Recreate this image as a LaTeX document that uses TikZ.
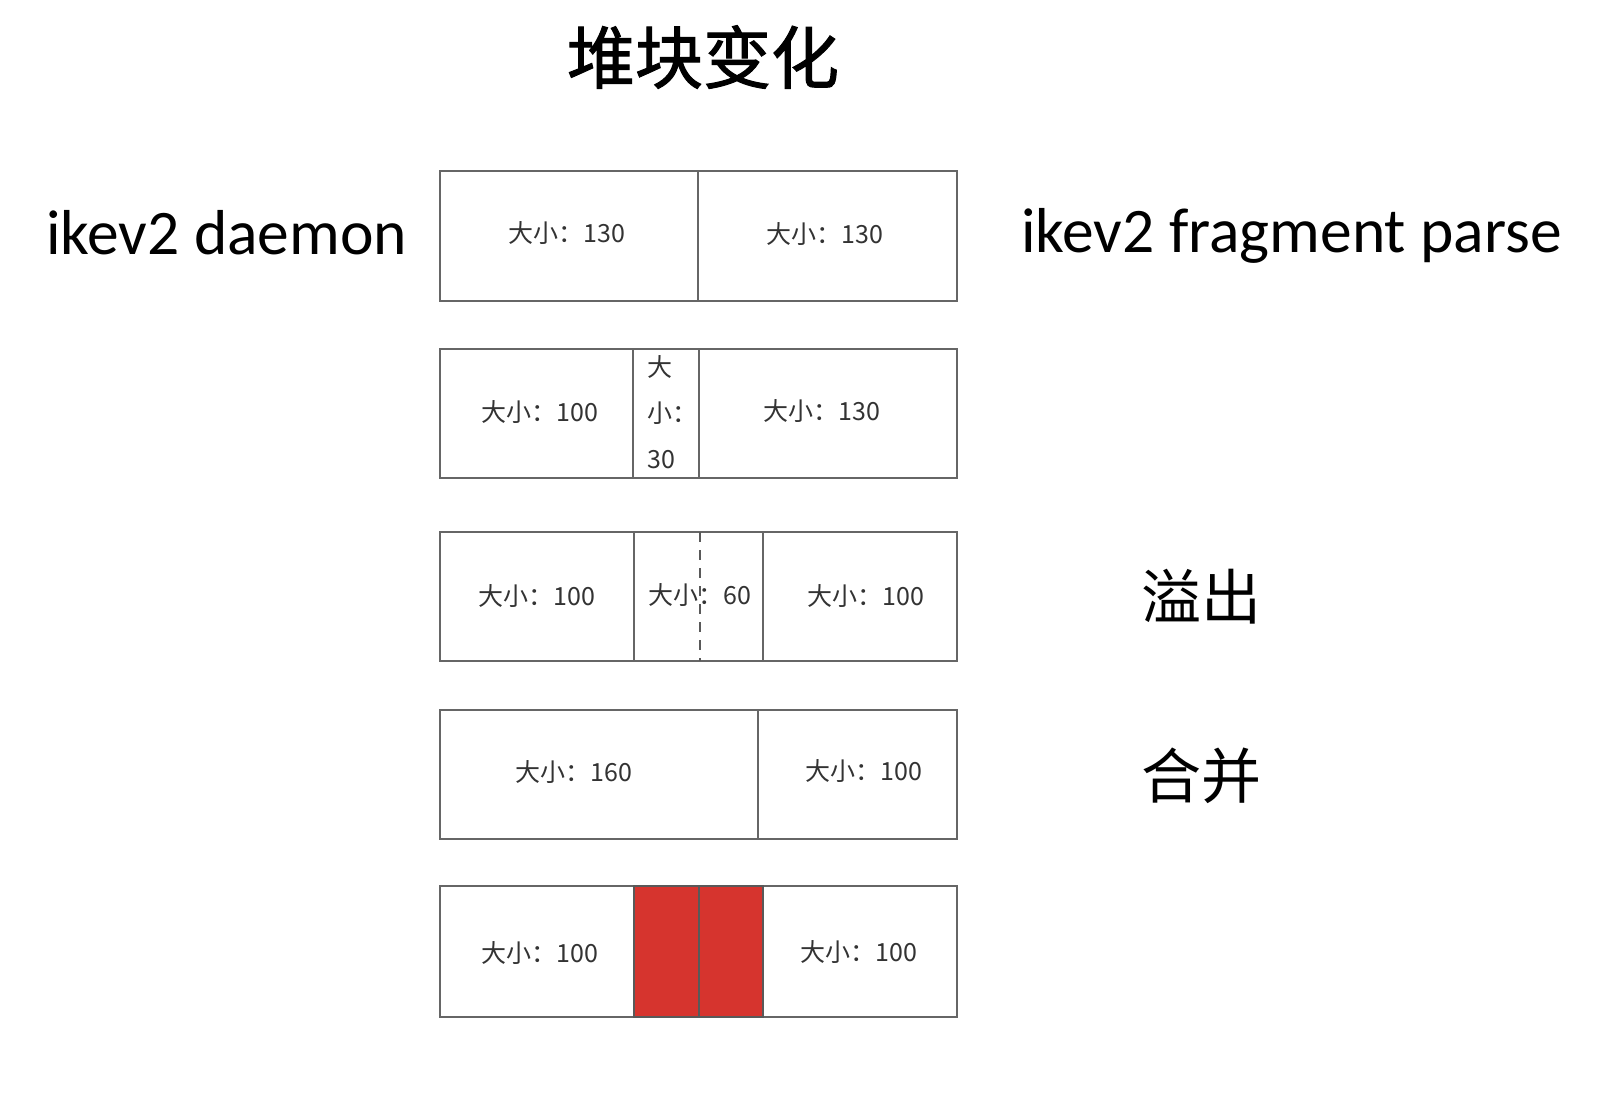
\documentclass[tikz,border=0pt]{standalone}
\usepackage{fontspec}
\setmainfont{Carlito}
\newfontfamily\cjk{Noto Sans CJK SC}
\newfontfamily\cjkmid[FakeBold=1.5]{Noto Sans CJK SC}
\definecolor{heapred}{RGB}{214,52,46}
\begin{document}
\begin{tikzpicture}[x=1pt,y=-1pt,
  cell/.style={draw=black!60, line width=2.2pt, inner sep=0pt, anchor=north west, outer sep=0pt},
  redcell/.style={cell, fill=heapred, draw=black!65},
  lbl/.style={font=\cjk\fontsize{25}{25}\selectfont, text=black!80, inner sep=0pt},
  side/.style={font=\fontsize{63.5}{63.5}\selectfont, inner sep=0pt},
  note/.style={font=\cjk\fontsize{60}{60}\selectfont, inner sep=0pt}]
\useasboundingbox (0,0) rectangle (1622,1102);
% title
\node[font=\cjkmid\fontsize{68}{68}\selectfont, inner sep=0pt] (title) at (703,57) {堆块变化};
% side labels
\node[side, anchor=west] (daemon) at (46,233) {ikev2 daemon};
\node[side, anchor=west] (frag) at (1021,236) {ikev2 fragment parse};
\node[note, anchor=west] (overflow) at (1141,597) {溢出};
\node[note, anchor=west] (merge) at (1141,776) {合并};
% row 1
\node[cell, minimum width=258pt, minimum height=130pt] (r1a) at (440,171) {};
\node[cell, minimum width=259pt, minimum height=130pt] (r1b) at (698,171) {};
\node[lbl] (t1a) at (567,233) {大小：130};
\node[lbl] (t1b) at (825,234) {大小：130};
% row 2
\node[cell, minimum width=193pt, minimum height=129pt] (r2a) at (440,349) {};
\node[cell, minimum width=258pt, minimum height=129pt] (r2c) at (699,349) {};
\node[cell, minimum width=66pt, minimum height=129pt] (r2b) at (633,349) {};
\node[lbl] (t2a) at (540,412) {大小：100};
\node[lbl, anchor=north west, align=left, font=\cjk\fontsize{25}{46}\selectfont] (t2b) at (647,355) {大\\小：\\30};
\node[lbl] (t2c) at (822,411) {大小：130};
% row 3
\node[cell, minimum width=194pt, minimum height=129pt] (r3a) at (440,532) {};
\node[cell, minimum width=194pt, minimum height=129pt] (r3c) at (763,532) {};
\node[cell, minimum width=129pt, minimum height=129pt] (r3b) at (634,532) {};
\draw[black!65, line width=2pt, dash pattern=on 10pt off 8pt] ([xshift=1pt]r3b.north) -- ([xshift=1pt]r3b.south);
\node[lbl] (t3a) at (537,596) {大小：100};
\node[lbl] (t3b) at (700,595) {大小：60};
\node[lbl] (t3c) at (866,596) {大小：100};
% row 4
\node[cell, minimum width=318pt, minimum height=129pt] (r4a) at (440,710) {};
\node[cell, minimum width=199pt, minimum height=129pt] (r4b) at (758,710) {};
\node[lbl] (t4a) at (574,772) {大小：160};
\node[lbl] (t4b) at (864,771) {大小：100};
% row 5
\node[cell, minimum width=517pt, minimum height=131pt] (r5) at (440,886) {};
\node[redcell, minimum width=65pt, minimum height=131pt] (r5r1) at (634,886) {};
\node[redcell, minimum width=64pt, minimum height=131pt] (r5r2) at (699,886) {};
\node[lbl] (t5a) at (540,953) {大小：100};
\node[lbl] (t5b) at (859,952) {大小：100};
\end{tikzpicture}
\end{document}
